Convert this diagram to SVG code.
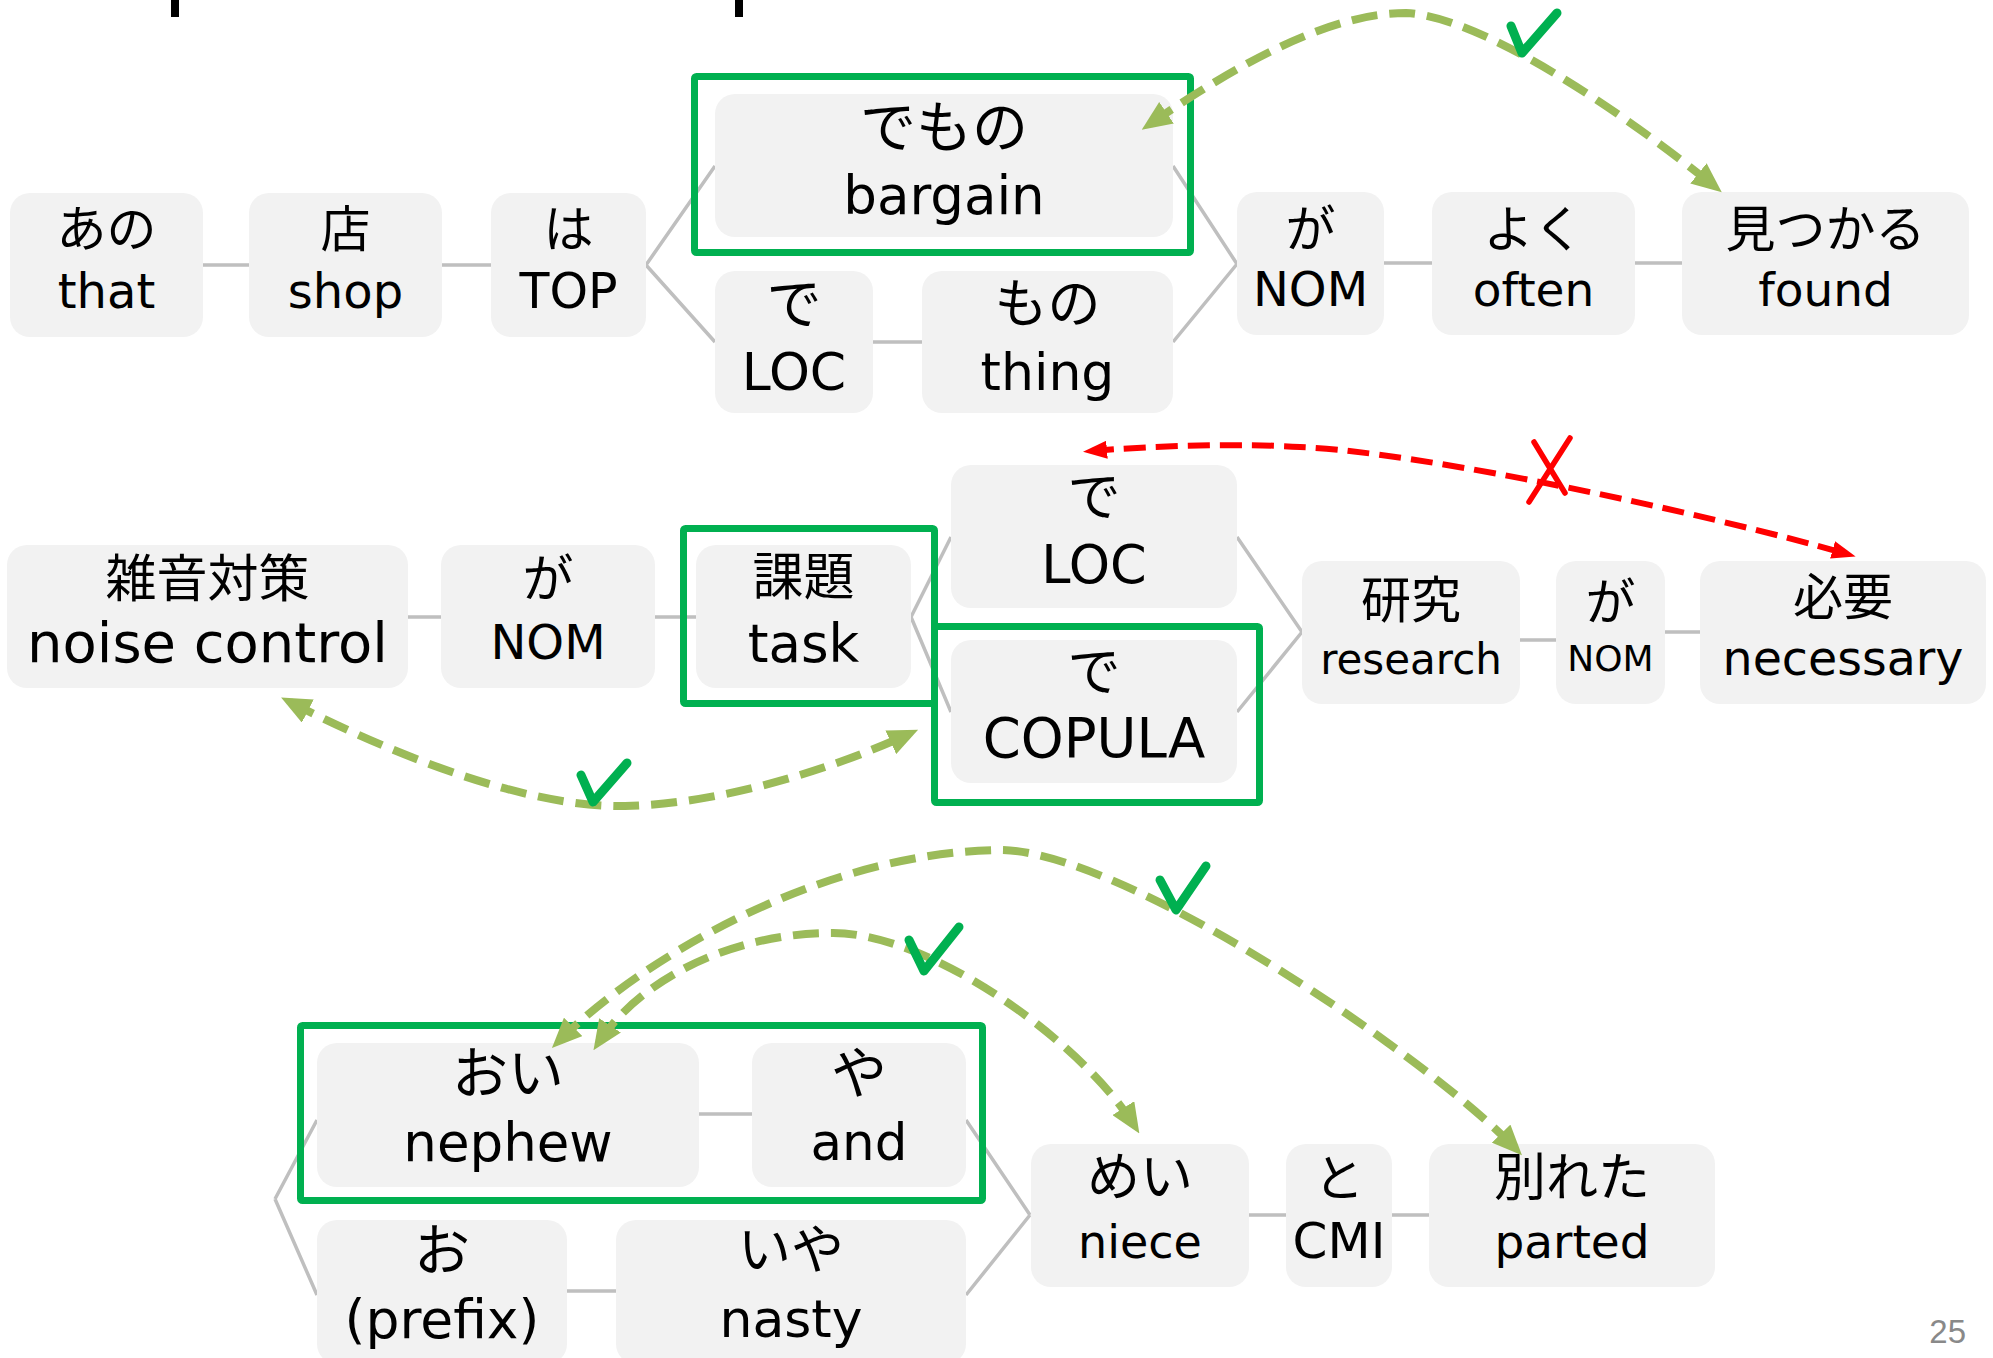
<svg xmlns="http://www.w3.org/2000/svg" width="1993" height="1358" viewBox="0 0 1993 1358">
<style>
.box{fill:#f2f2f2}
.t{font-family:"DejaVu Sans","Noto Sans CJK JP",sans-serif;text-anchor:middle;fill:#000}
.j{font-family:"Noto Sans CJK JP",sans-serif;text-anchor:middle;fill:#000}
.link{stroke:#bfbfbf;stroke-width:3.5;fill:none}
.hl{fill:none;stroke:#00b050;stroke-width:7}
.arc{fill:none;stroke:#9bbb59;stroke-width:8;stroke-dasharray:26 12}
.bad{fill:none;stroke:#ff0000;stroke-width:6;stroke-dasharray:22 10}
.ok{fill:none;stroke:#00b050;stroke-width:9;stroke-linecap:round;stroke-linejoin:round}
.ng{fill:none;stroke:#ff0000;stroke-width:5.5;stroke-linecap:round}
</style>
<defs>
<marker id="gh" markerUnits="userSpaceOnUse" viewBox="0 0 30 26" markerWidth="30" markerHeight="26" refX="20" refY="13" orient="auto-start-reverse"><path d="M0,0 L30,13 L0,26 z" fill="#9bbb59"/></marker>
<marker id="rh" markerUnits="userSpaceOnUse" viewBox="0 0 24 18" markerWidth="24" markerHeight="18" refX="15" refY="9" orient="auto-start-reverse"><path d="M0,0 L24,9 L0,18 z" fill="#ff0000"/></marker>
</defs>
<rect width="1993" height="1358" fill="#fff"/>
<g id="title-fragment"><rect x="171" y="0" width="8" height="17" fill="#000"/><rect x="735" y="0" width="8" height="17" fill="#000"/></g>

<g id="connectors">
<path class="link" d="M203,265H249M442,265H491M646,265L715,166M646,265L715,342M873,342H922M1173,166L1237,264M1173,342L1237,264M1384,263H1432M1635,263H1682"/>
<path class="link" d="M408,617H441M655,617H696M911,617L951,537M911,617L951,712M1237,537L1302,632M1237,712L1302,632M1520,640H1556M1665,632H1700"/>
<path class="link" d="M699,1114H752M275,1199L317,1120M275,1199L317,1295M567,1291H616M966,1120L1030,1215M966,1295L1030,1215M1249,1215H1286M1392,1215H1429"/>
</g>

<g id="n-ano"><rect class="box" x="10" y="193" width="193" height="144" rx="20"/><text class="j" x="106.5" y="247" font-size="50">あの</text><text class="t" x="106.5" y="308" font-size="48">that</text></g>
<g id="n-mise"><rect class="box" x="249" y="193" width="193" height="144" rx="20"/><text class="j" x="345.5" y="247" font-size="50">店</text><text class="t" x="345.5" y="308" font-size="48">shop</text></g>
<g id="n-wa"><rect class="box" x="491" y="193" width="155" height="144" rx="20"/><text class="j" x="568.5" y="247" font-size="50">は</text><text class="t" x="568.5" y="308" font-size="49">TOP</text></g>
<g id="n-demono"><rect class="box" x="715" y="94" width="458" height="143" rx="20"/><text class="j" x="944" y="147" font-size="56">でもの</text><text class="t" x="944" y="214" font-size="53">bargain</text></g>
<g id="n-de1"><rect class="box" x="715" y="271" width="158" height="142" rx="20"/><text class="j" x="794" y="323" font-size="55">で</text><text class="t" x="794" y="390" font-size="52">LOC</text></g>
<g id="n-mono"><rect class="box" x="922" y="271" width="251" height="142" rx="20"/><text class="j" x="1047.5" y="323" font-size="53">もの</text><text class="t" x="1047.5" y="390" font-size="52">thing</text></g>
<g id="n-ga1"><rect class="box" x="1237" y="192" width="147" height="143" rx="20"/><text class="j" x="1310.5" y="247" font-size="50">が</text><text class="t" x="1310.5" y="306" font-size="48">NOM</text></g>
<g id="n-yoku"><rect class="box" x="1432" y="192" width="203" height="143" rx="20"/><text class="j" x="1533.5" y="247" font-size="50">よく</text><text class="t" x="1533.5" y="306" font-size="47">often</text></g>
<g id="n-mitsukaru"><rect class="box" x="1682" y="192" width="287" height="143" rx="20"/><text class="j" x="1825.5" y="247" font-size="50">見つかる</text><text class="t" x="1825.5" y="306" font-size="47">found</text></g>

<g id="n-zatsuon"><rect class="box" x="7" y="545" width="401" height="143" rx="20"/><text class="j" x="207.5" y="597" font-size="51">雑音対策</text><text class="t" x="207.5" y="662" font-size="56">noise control</text></g>
<g id="n-ga2"><rect class="box" x="441" y="545" width="214" height="143" rx="20"/><text class="j" x="548" y="597" font-size="51">が</text><text class="t" x="548" y="659" font-size="48">NOM</text></g>
<g id="n-kadai"><rect class="box" x="696" y="545" width="215" height="143" rx="20"/><text class="j" x="803.5" y="595" font-size="51">課題</text><text class="t" x="803.5" y="662" font-size="53">task</text></g>
<g id="n-de2"><rect class="box" x="951" y="465" width="286" height="143" rx="20"/><text class="j" x="1094" y="516" font-size="53">で</text><text class="t" x="1094" y="583" font-size="52.5">LOC</text></g>
<g id="n-de3"><rect class="box" x="951" y="640" width="286" height="143" rx="20"/><text class="j" x="1094" y="691" font-size="53">で</text><text class="t" x="1094" y="757" font-size="54.5">COPULA</text></g>
<g id="n-kenkyu"><rect class="box" x="1302" y="561" width="218" height="143" rx="20"/><text class="j" x="1411" y="618" font-size="50">研究</text><text class="t" x="1411" y="674" font-size="42">research</text></g>
<g id="n-ga3"><rect class="box" x="1556" y="561" width="109" height="143" rx="20"/><text class="j" x="1610.5" y="620" font-size="50">が</text><text class="t" x="1610.5" y="671" font-size="36">NOM</text></g>
<g id="n-hitsuyo"><rect class="box" x="1700" y="561" width="286" height="143" rx="20"/><text class="j" x="1843" y="615" font-size="50">必要</text><text class="t" x="1843" y="675" font-size="47.5">necessary</text></g>

<g id="n-oi"><rect class="box" x="317" y="1043" width="382" height="144" rx="20"/><text class="j" x="508" y="1093" font-size="56">おい</text><text class="t" x="508" y="1161" font-size="53">nephew</text></g>
<g id="n-ya"><rect class="box" x="752" y="1043" width="214" height="144" rx="20"/><text class="j" x="859" y="1093" font-size="56">や</text><text class="t" x="859" y="1160" font-size="51.5">and</text></g>
<g id="n-o"><rect class="box" x="317" y="1220" width="250" height="144" rx="20"/><text class="j" x="442" y="1270" font-size="56">お</text><text class="t" x="442" y="1338" font-size="53.5">(prefix)</text></g>
<g id="n-iya"><rect class="box" x="616" y="1220" width="350" height="144" rx="20"/><text class="j" x="791" y="1269" font-size="53">いや</text><text class="t" x="791" y="1337" font-size="52">nasty</text></g>
<g id="n-mei"><rect class="box" x="1031" y="1144" width="218" height="143" rx="20"/><text class="j" x="1140" y="1196" font-size="53">めい</text><text class="t" x="1140" y="1258" font-size="46">niece</text></g>
<g id="n-to"><rect class="box" x="1286" y="1144" width="106" height="143" rx="20"/><text class="j" x="1339" y="1196" font-size="50">と</text><text class="t" x="1339" y="1258" font-size="50">CMI</text></g>
<g id="n-wakareta"><rect class="box" x="1429" y="1144" width="286" height="143" rx="20"/><text class="j" x="1572" y="1196" font-size="52">別れた</text><text class="t" x="1572" y="1258" font-size="47">parted</text></g>

<g id="highlights">
<rect class="hl" x="694.5" y="76.5" width="496" height="176" rx="2"/>
<rect class="hl" x="683.5" y="528.5" width="251" height="175" rx="2"/>
<rect class="hl" x="934.5" y="626.5" width="325" height="176" rx="2"/>
<rect class="hl" x="300.5" y="1025.5" width="682" height="175" rx="2"/>
</g>

<g id="dependency-arcs">
<path class="arc" d="M1150,124 C1241,62 1330,13 1406,13 C1480,16 1620,110 1714,186" marker-start="url(#gh)" marker-end="url(#gh)"/>
<path class="bad" d="M1092,451 C1150,446 1240,443 1300,447 C1420,452 1700,512 1847,554" marker-start="url(#rh)" marker-end="url(#rh)"/>
<path class="arc" d="M290,702 C380,748 520,808 625,806 C720,804 830,770 909,734" marker-start="url(#gh)" marker-end="url(#gh)"/>
<path class="arc" d="M559,1041 C640,960 820,852 1000,850 C1120,850 1420,1050 1515,1148" marker-start="url(#gh)" marker-end="url(#gh)"/>
<path class="arc" d="M599,1042 C640,980 730,933 833,933 C930,933 1080,1040 1134,1125" marker-start="url(#gh)" marker-end="url(#gh)"/>
</g>

<g id="marks">
<path class="ok" d="M1511,26 L1522,53 L1557,13"/>
<path class="ok" d="M581,775 L593,802 L627,763"/>
<path class="ok" d="M1160,880 L1176,910 L1206,866"/>
<path class="ok" d="M909,940 L924,971 L959,927"/>
<path class="ng" d="M1534,442 L1565,493 M1570,438 L1529,502"/>
</g>

<text x="1966" y="1343" font-family="Liberation Sans, sans-serif" font-size="33" fill="#898989" text-anchor="end">25</text>
</svg>
